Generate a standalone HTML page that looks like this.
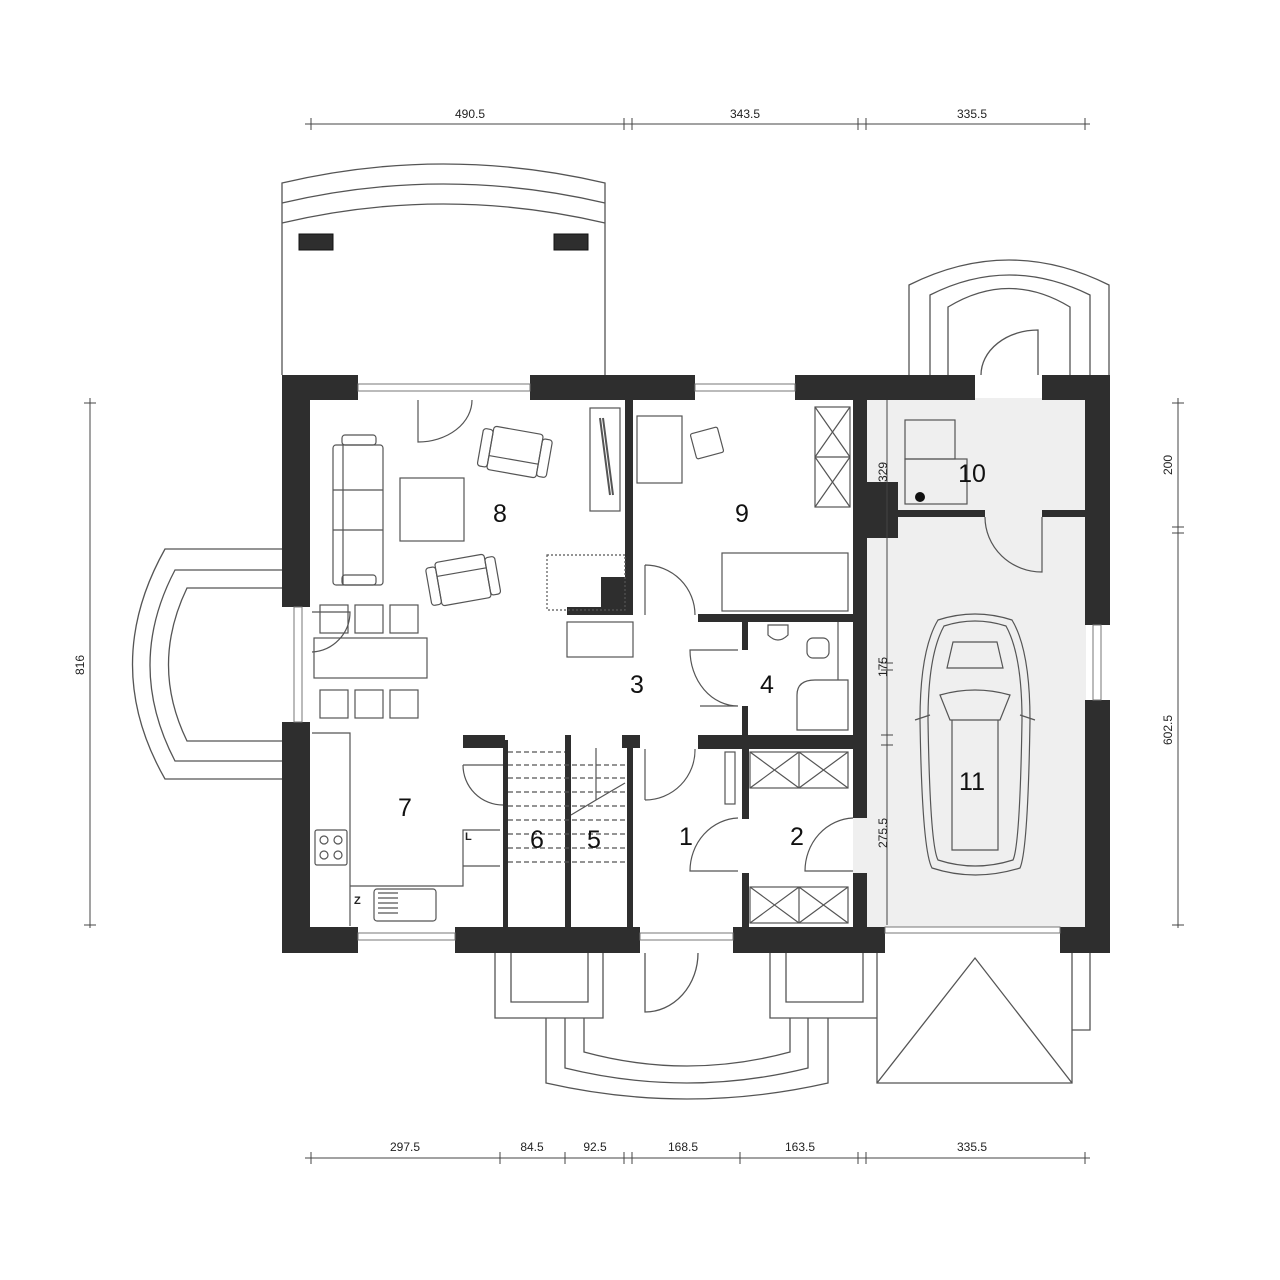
<!DOCTYPE html>
<html><head><meta charset="utf-8"><style>
html,body{margin:0;padding:0;background:#fff}
svg{display:block}
text{font-family:"Liberation Sans",Arial,sans-serif}
</style></head><body>
<svg width="1280" height="1280" viewBox="0 0 1280 1280" xmlns="http://www.w3.org/2000/svg">
<rect width="1280" height="1280" fill="#fff"/>
<rect x="866" y="398" width="220" height="529" fill="#efefef"/>
<rect x="853" y="818" width="14" height="55" fill="#efefef"/>

<g fill="none" stroke="#555" stroke-width="1.3">
<path d="M282 375 V183 Q443 145 605 183 V375"/>
<path d="M282 203 Q443 165 605 203"/>
<path d="M282 223 Q443 185 605 223"/>
<path d="M283 549 H165 Q100 665 165 779 H283"/>
<path d="M283 570 H175 Q125 665 175 761 H283"/>
<path d="M283 588 H187 Q150 665 187 741 H283"/>
<path d="M909 375 V285 Q1009 235 1109 285 V375"/>
<path d="M930 375 V295 Q1009 255 1090 295 V375"/>
<path d="M948 375 V307 Q1009 270 1070 307 V375"/>
<path d="M1038 375 V330 A57 45 0 0 0 981 375"/>
<path d="M495 953 V1018 H603 V953"/>
<path d="M511 953 V1002 H588 V953"/>
<path d="M770 953 V1018 H877"/>
<path d="M786 953 V1002 H863 V953"/>
<path d="M546 1018 V1083 Q687 1115 828 1083 V1018"/>
<path d="M565 1018 V1068 Q687 1098 808 1068 V1018"/>
<path d="M584 1018 V1052 Q687 1080 790 1052 V1018"/>
<path d="M877 953 V1083 H1072 V953"/>
<path d="M877 1083 L975 958 L1072 1083"/>
<path d="M1072 1030 H1090 V953"/>
<path d="M645 953 V1012 A53 59 0 0 0 698 953"/>
</g>
<g fill="#2e2e2e" stroke="#111" stroke-width="1">
<rect x="299" y="234" width="34" height="16"/>
<rect x="554" y="234" width="34" height="16"/>
</g>

<g fill="#2e2e2e">
<rect x="282" y="375" width="76" height="25"/>
<rect x="282" y="375" width="28" height="232"/>
<rect x="282" y="722" width="28" height="231"/>
<rect x="282" y="927" width="76" height="26"/>
<rect x="455" y="927" width="185" height="26"/>
<rect x="733" y="927" width="152" height="26"/>
<rect x="1060" y="927" width="50" height="26"/>
<rect x="530" y="375" width="165" height="25"/>
<rect x="795" y="375" width="180" height="25"/>
<rect x="1042" y="375" width="68" height="25"/>
<rect x="1085" y="375" width="25" height="250"/>
<rect x="1085" y="700" width="25" height="253"/>
<rect x="625" y="400" width="8" height="215"/>
<rect x="601" y="577" width="32" height="38"/>
<rect x="567" y="607" width="66" height="8"/>
<rect x="698" y="614" width="168" height="8"/>
<rect x="853" y="400" width="14" height="418"/>
<rect x="853" y="873" width="14" height="54"/>
<rect x="866" y="482" width="32" height="56"/>
<rect x="898" y="510" width="87" height="7"/>
<rect x="1042" y="510" width="43" height="7"/>
<rect x="742" y="622" width="6" height="28"/>
<rect x="742" y="706" width="6" height="30"/>
<rect x="698" y="735" width="155" height="14"/>
<rect x="742" y="749" width="7" height="70"/>
<rect x="742" y="873" width="7" height="54"/>
<rect x="463" y="735" width="42" height="13"/>
<rect x="503" y="740" width="5" height="187"/>
<rect x="565" y="735" width="6" height="192"/>
<rect x="622" y="735" width="18" height="13"/>
<rect x="627" y="735" width="6" height="192"/>
</g>

<g fill="#fff" stroke="#777" stroke-width="1">
<rect x="358" y="384" width="172" height="7"/>
<rect x="695" y="384" width="100" height="7"/>
<rect x="294" y="607" width="8" height="115"/>
<rect x="1093" y="625" width="8" height="75"/>
<rect x="358" y="933" width="97" height="7"/>
<rect x="640" y="933" width="93" height="7"/>
<rect x="885" y="927" width="175" height="6"/>
</g>

<g fill="none" stroke="#555" stroke-width="1.2">
<path d="M418 400 V442 A54 42 0 0 0 472 400"/>
<path d="M645 565 V615 M645 565 A50 50 0 0 1 695 615"/>
<path d="M738 650 H690 A48 56 0 0 0 738 706 H700"/>
<path d="M645 800 V749 M645 800 A50 50 0 0 0 695 749"/>
<path d="M738 818 A50 53 0 0 0 690 871 H738"/>
<path d="M853 818 A50 53 0 0 0 805 871 H853"/>
<path d="M463 765 A40 40 0 0 0 503 805 M463 765 H503"/>
<path d="M985 517 A57 55 0 0 0 1042 572 V517"/>
<path d="M312 652 A40 40 0 0 0 350 612 H312"/>
<rect x="333" y="445" width="50" height="140" rx="3"/>
<path d="M343 445 V585 M333 490 H383 M333 530 H383"/>
<rect x="342" y="435" width="34" height="10" rx="3"/>
<rect x="342" y="575" width="34" height="10" rx="3"/>
<rect x="400" y="478" width="64" height="63"/>
<g transform="rotate(10 515 452)"><rect x="490" y="430" width="50" height="44" rx="3"/><rect x="480" y="434" width="10" height="38" rx="3"/><rect x="540" y="434" width="10" height="38" rx="3"/><path d="M490 460 H540"/></g>
<g transform="rotate(-10 463 580)"><rect x="438" y="558" width="50" height="44" rx="3"/><rect x="428" y="562" width="10" height="38" rx="3"/><rect x="488" y="562" width="10" height="38" rx="3"/><path d="M438 572 H488"/></g>
<rect x="590" y="408" width="30" height="103"/>
<path d="M600 418 L610 495 M603 418 L613 495" stroke-width="2"/>
<rect x="547" y="555" width="78" height="55" stroke-dasharray="2 2"/>
<rect x="567" y="622" width="66" height="35"/>
<rect x="320" y="605" width="28" height="28"/><rect x="355" y="605" width="28" height="28"/><rect x="390" y="605" width="28" height="28"/>
<rect x="314" y="638" width="113" height="40"/>
<rect x="320" y="690" width="28" height="28"/><rect x="355" y="690" width="28" height="28"/><rect x="390" y="690" width="28" height="28"/>
<path d="M312 733 H350 V886 H463 V830 H500 M463 866 H500 M350 886 V926"/>
<rect x="315" y="830" width="32" height="35" rx="2"/>
<circle cx="324" cy="840" r="4"/><circle cx="338" cy="840" r="4"/><circle cx="324" cy="855" r="4"/><circle cx="338" cy="855" r="4"/>
<rect x="374" y="889" width="62" height="32" rx="3"/>
<path d="M378 893 H398 M378 898 H398 M378 903 H398 M378 908 H398 M378 913 H398"/>
<rect x="637" y="416" width="45" height="67"/>
<g transform="rotate(-15 707 443)"><rect x="693" y="430" width="28" height="26" rx="2"/></g>
<rect x="722" y="553" width="126" height="58"/>
<rect x="815" y="407" width="35" height="100"/>
<path d="M815 407 L850 457 M850 407 L815 457 M815 457 H850 M815 457 L850 507 M850 457 L815 507"/>
<path d="M768 625 H788 V635 Q778 645 768 635 Z"/>
<rect x="807" y="638" width="22" height="20" rx="6"/>
<path d="M838 622 V680"/>
<path d="M797 730 V695 Q797 680 815 680 H848 V730 Z"/>
<rect x="750" y="752" width="98" height="36"/>
<path d="M799 752 V788 M750 752 L799 788 M799 752 L750 788 M799 752 L848 788 M848 752 L799 788"/>
<rect x="750" y="887" width="98" height="36"/>
<path d="M799 887 V923 M750 887 L799 923 M799 887 L750 923 M799 887 L848 923 M848 887 L799 923"/>
<rect x="725" y="752" width="10" height="52"/>
<path d="M508 752 H565 M508 765 H625 M508 778 H625 M508 792 H625 M508 806 H625 M508 820 H625 M508 834 H625 M508 848 H625 M508 862 H625" stroke-dasharray="5 3"/>
<path d="M596 748 V800 L571 815 M596 800 L625 783"/>
<rect x="905" y="420" width="50" height="39"/>
<rect x="905" y="459" width="62" height="45"/>
<path d="M938 620 Q975 608 1012 620 Q1030 650 1030 720 Q1028 850 1020 868 Q975 882 932 868 Q922 850 920 720 Q920 650 938 620 Z"/>
<path d="M944 626 Q975 616 1006 626 Q1022 655 1022 720 Q1020 845 1013 860 Q975 872 938 860 Q930 845 928 720 Q928 655 944 626 Z"/>
<path d="M953 642 H997 L1003 668 H947 Z M940 695 Q975 685 1010 695 L1000 720 H950 Z M952 720 V850 H998 V720"/>
<path d="M915 720 L930 715 M1035 720 L1020 715"/>
</g>
<circle cx="920" cy="497" r="5" fill="#111"/>

<g font-size="25" fill="#111" text-anchor="middle">
<text x="500" y="522">8</text>
<text x="742" y="522">9</text>
<text x="972" y="482">10</text>
<text x="637" y="693">3</text>
<text x="767" y="693">4</text>
<text x="405" y="816">7</text>
<text x="537" y="848">6</text>
<text x="594" y="848">5</text>
<text x="686" y="845">1</text>
<text x="797" y="845">2</text>
<text x="972" y="790">11</text>
</g>
<g font-size="11" fill="#222">
<text x="465" y="840" font-weight="bold">L</text>
<text x="354" y="904" font-weight="bold">Z</text>
</g>

<g stroke="#444" stroke-width="1" fill="none">
<path d="M305 124 H1090"/>
<path d="M311 118 V130 M624 118 V130 M632 118 V130 M858 118 V130 M866 118 V130 M1085 118 V130"/>
<path d="M305 1158 H1090"/>
<path d="M311 1152 V1164 M500 1152 V1164 M565 1152 V1164 M624 1152 V1164 M632 1152 V1164 M740 1152 V1164 M858 1152 V1164 M866 1152 V1164 M1085 1152 V1164"/>
<path d="M90 398 V928 M84 403 H96 M84 925 H96"/>
<path d="M1178 398 V928 M1172 403 H1184 M1172 527 H1184 M1172 533 H1184 M1172 925 H1184"/>
<path d="M887 400 V925 M881 663 H893 M881 670 H893 M881 735 H893 M881 745 H893"/>
</g>
<g font-size="12" fill="#222" text-anchor="middle">
<text x="470" y="118">490.5</text>
<text x="745" y="118">343.5</text>
<text x="972" y="118">335.5</text>
<text x="405" y="1151">297.5</text>
<text x="532" y="1151">84.5</text>
<text x="595" y="1151">92.5</text>
<text x="683" y="1151">168.5</text>
<text x="800" y="1151">163.5</text>
<text x="972" y="1151">335.5</text>
<text transform="translate(84 665) rotate(-90)">816</text>
<text transform="translate(1172 465) rotate(-90)">200</text>
<text transform="translate(1172 730) rotate(-90)">602.5</text>
<text transform="translate(887 472) rotate(-90)">329</text>
<text transform="translate(887 667) rotate(-90)">175</text>
<text transform="translate(887 833) rotate(-90)">275.5</text>
</g>
</svg>
</body></html>
